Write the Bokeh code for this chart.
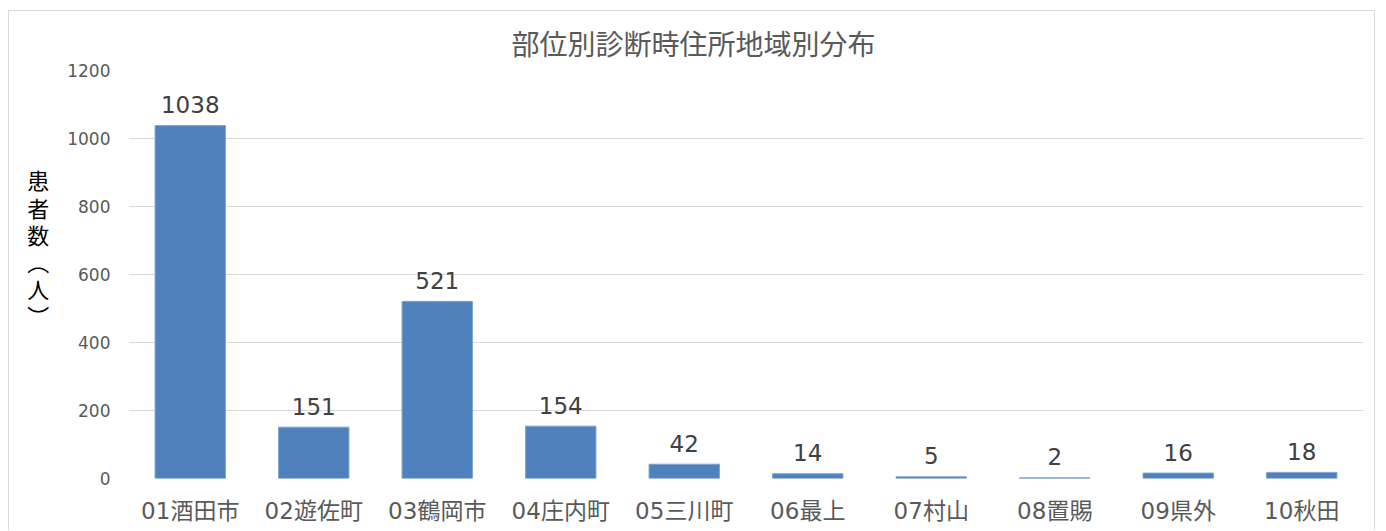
from bokeh.plotting import figure
from bokeh.models import ColumnDataSource, Range1d, FixedTicker
from bokeh.core.properties import value
from bokeh.embed import file_html
from bokeh.resources import INLINE

categories = ["01酒田市", "02遊佐町", "03鶴岡市", "04庄内町", "05三川町",
              "06最上", "07村山", "08置賜", "09県外", "10秋田"]
counts = [1038, 151, 521, 154, 42, 14, 5, 2, 16, 18]
y_ticks = [0, 200, 400, 600, 800, 1000, 1200]
title_text = "部位別診断時住所地域別分布"
y_label_text = "患\n者\n数\n︵\n人\n︶\n\u3000\n\u3000"

FONT = "DejaVu Sans, Noto Sans CJK JP"
CJK = "Noto Sans CJK JP"
GRAY = "#595959"

src = ColumnDataSource(dict(cat=categories, val=counts, lab=[str(v) for v in counts]))

p = figure(x_range=categories, y_range=Range1d(0, 1200), width=1367, height=520,
           output_backend="svg", toolbar_location=None,
           min_border_left=119, min_border_right=13, min_border_top=59, min_border_bottom=53)
p.styles = {"border": "1px solid #D9D9D9", "border-bottom": "none",
            "margin-left": "8px", "margin-top": "10px"}
p.outline_line_color = None
p.background_fill_color = "white"
p.border_fill_color = "white"

p.title.text = title_text
p.title.align = "left"
p.title.offset = 383
p.title.standoff = 16
p.title.text_font = CJK
p.title.text_font_size = "28px"
p.title.text_font_style = "normal"
p.title.text_color = GRAY

p.vbar(x="cat", top="val", width=0.57, source=src, fill_color="#4F81BD",
       line_color="#7FA3D0", line_width=1)

p.text(x="cat", y="val", text="lab", source=src, text_align="center",
       text_baseline="alphabetic", y_offset=-21, text_font=value(FONT),
       text_font_size="23px", text_color="#404040")

p.yaxis.ticker = FixedTicker(ticks=y_ticks)
p.ygrid.ticker = FixedTicker(ticks=y_ticks)
p.xgrid.grid_line_color = None
p.ygrid.grid_line_color = "#D9D9D9"
p.ygrid.grid_line_width = 1

for ax in (p.xaxis, p.yaxis):
    ax.axis_line_color = None
    ax.major_tick_line_color = None
    ax.minor_tick_line_color = None
    ax.major_label_text_font = FONT
    ax.major_label_text_color = GRAY

p.yaxis.major_label_text_font_size = "17px"
p.yaxis.major_label_standoff = 12
p.xaxis.major_label_text_font_size = "23px"
p.xaxis.major_label_standoff = 13

p.yaxis.axis_label = y_label_text
p.yaxis.axis_label_text_font = CJK
p.yaxis.axis_label_text_font_size = "22px"
p.yaxis.axis_label_text_font_style = "normal"
p.yaxis.axis_label_text_color = "#000000"
p.yaxis.axis_label_standoff = 15
p.yaxis.axis_label_text_line_height = 0.85
if hasattr(p.yaxis[0], "axis_label_orientation"):
    p.yaxis.axis_label_orientation = "horizontal"

open("out.html", "w").write(file_html(p, INLINE))
